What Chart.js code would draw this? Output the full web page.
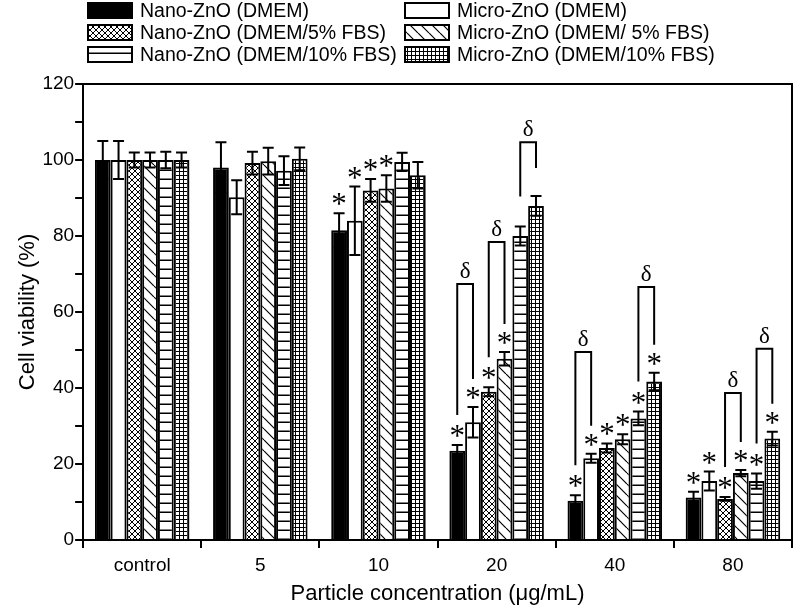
<!DOCTYPE html>
<html>
<head>
<meta charset="utf-8">
<script src="https://cdn.jsdelivr.net/npm/chart.js@4.4.0/dist/chart.umd.min.js"></script>
<style>
	html, body { margin: 0; padding: 0; background: #fff; }
</style>
</head>
<body>
<canvas id="graphique-viabilite" width="796" height="605"></canvas>
<script>
const concentrations = ["control", "5", "10", "20", "40", "80"];
const yTicks = [0, 20, 40, 60, 80, 100, 120];

const nanoDmem = [100, 98, 81.5, 23.5, 10.3, 11.2];
const nanoDmemErr = [5, 6.7, 4.5, 1.5, 1.5, 1.5];
const microDmem = [100, 90.2, 84, 31, 21.5, 15.5];
const microDmemErr = [5, 4.5, 9, 4, 1.2, 2.5];
const nano5 = [100, 99.2, 92, 39, 24.2, 10.8];
const nano5Err = [2, 3, 3, 1.2, 1.2, 0.5];
const micro5 = [100, 99.7, 92.5, 47.7, 26.5, 17.6];
const micro5Err = [2, 3.5, 3.5, 1.8, 1.3, 0.8];
const nano10 = [100, 97.2, 99.5, 80, 32, 15.5];
const nano10Err = [2.2, 3.8, 2.4, 2.5, 1.8, 2];
const micro10 = [100, 100.3, 96, 87.9, 41.7, 26.7];
const micro10Err = [2, 3, 3.5, 2.6, 2.3, 1.8];

// significance stars (1 = star above the bar)
const nanoDmemStar = [0, 0, 1, 1, 1, 1];
const microDmemStar = [0, 0, 1, 1, 1, 1];
const nano5Star = [0, 0, 1, 1, 1, 1];
const micro5Star = [0, 0, 1, 1, 1, 1];
const nano10Star = [0, 0, 0, 0, 1, 1];
const micro10Star = [0, 0, 0, 0, 1, 1];

// delta brackets: [group, first series, second series, top value]
const crochets = [
	[3, 0, 1, 67.4],
	[3, 2, 3, 78.4],
	[3, 4, 5, 104.7],
	[4, 0, 1, 49.5],
	[4, 4, 5, 66.6],
	[5, 2, 3, 38.7],
	[5, 4, 5, 50.3],
];

function motif(dessin, taille) {
	const c = document.createElement("canvas");
	c.width = taille;
	c.height = taille;
	const ctx = c.getContext("2d");
	ctx.fillStyle = "#fff";
	ctx.fillRect(0, 0, taille, taille);
	ctx.strokeStyle = "#000";
	ctx.fillStyle = "#000";
	ctx.lineWidth = 1;
	dessin(ctx, taille);
	return ctx.createPattern(c, "repeat");
}

const motifCroise = motif(function (ctx, t) {
	ctx.beginPath();
	for (let k = -t; k <= t; k += t) {
		ctx.moveTo(k, 0); ctx.lineTo(k + t, t);
		ctx.moveTo(k, t); ctx.lineTo(k + t, 0);
	}
	ctx.stroke();
}, 6);
const motifDiag = motif(function (ctx, t) {
	ctx.lineWidth = 1.2;
	ctx.beginPath();
	for (let k = -t; k <= t; k += t) {
		ctx.moveTo(k, 0); ctx.lineTo(k + t, t);
	}
	ctx.stroke();
}, 11);
const motifHoriz = motif(function (ctx, t) {
	ctx.fillRect(0, t - 1.5, t, 1.5);
}, 9);
const motifGrille = motif(function (ctx, t) {
	ctx.fillRect(t - 1, 0, 1, t);
	ctx.fillRect(0, t - 1, t, 1);
}, 4);

function serie(label, valeurs, erreurs, etoiles, fond) {
	return {
		label: label,
		data: valeurs,
		erreurs: erreurs,
		etoiles: etoiles,
		backgroundColor: fond,
		borderColor: "#000",
		borderWidth: 2,
		categoryPercentage: 0.8,
		barPercentage: 1.0,
	};
}

const datasets = [
	serie("Nano-ZnO (DMEM)", nanoDmem, nanoDmemErr, nanoDmemStar, "#000"),
	serie("Micro-ZnO (DMEM)", microDmem, microDmemErr, microDmemStar, "#fff"),
	serie("Nano-ZnO (DMEM/5% FBS)", nano5, nano5Err, nano5Star, motifCroise),
	serie("Micro-ZnO (DMEM/ 5% FBS)", micro5, micro5Err, micro5Star, motifDiag),
	serie("Nano-ZnO (DMEM/10% FBS)", nano10, nano10Err, nano10Star, motifHoriz),
	serie("Micro-ZnO (DMEM/10% FBS)", micro10, micro10Err, micro10Star, motifGrille),
];

const plugErreurs = {
	id: "erreurs",
	afterDatasetsDraw(chart) {
		const ctx = chart.ctx;
		const y = chart.scales.y;
		ctx.save();
		ctx.strokeStyle = "#000";
		ctx.lineWidth = 2;
		chart.data.datasets.forEach((ds, i) => {
			chart.getDatasetMeta(i).data.forEach((barre, j) => {
				const haut = y.getPixelForValue(ds.data[j] + ds.erreurs[j]);
				const bas = y.getPixelForValue(ds.data[j] - ds.erreurs[j]);
				ctx.beginPath();
				ctx.moveTo(barre.x, haut); ctx.lineTo(barre.x, bas);
				ctx.moveTo(barre.x - 5.5, haut); ctx.lineTo(barre.x + 5.5, haut);
				ctx.moveTo(barre.x - 5.5, bas); ctx.lineTo(barre.x + 5.5, bas);
				ctx.stroke();
			});
		});

		// stars
		ctx.fillStyle = "#000";
		ctx.font = "31px 'Liberation Serif'";
		ctx.textAlign = "center";
		ctx.textBaseline = "alphabetic";
		chart.data.datasets.forEach((ds, i) => {
			chart.getDatasetMeta(i).data.forEach((barre, j) => {
				if (!ds.etoiles[j]) return;
				const haut = y.getPixelForValue(ds.data[j] + ds.erreurs[j]);
				ctx.fillText("*", barre.x, haut + 1);
			});
		});

		// delta brackets
		ctx.font = "23px 'Liberation Serif'";
		for (const [g, a, b, sommet] of crochets) {
			const barreA = chart.getDatasetMeta(a).data[g];
			const barreB = chart.getDatasetMeta(b).data[g];
			const dsA = chart.data.datasets[a], dsB = chart.data.datasets[b];
			const yTop = y.getPixelForValue(sommet);
			const basA = y.getPixelForValue(dsA.data[g] + dsA.erreurs[g]) - 30;
			const basB = y.getPixelForValue(dsB.data[g] + dsB.erreurs[g]) - 28;
			ctx.beginPath();
			ctx.moveTo(barreA.x, basA);
			ctx.lineTo(barreA.x, yTop);
			ctx.lineTo(barreB.x, yTop);
			ctx.lineTo(barreB.x, basB);
			ctx.stroke();
			ctx.fillText("δ", (barreA.x + barreB.x) / 2, yTop - 6);
		}
		ctx.restore();
	},
	afterDraw(chart) {
		const ctx = chart.ctx;
		const zone = chart.chartArea;
		ctx.save();
		ctx.strokeStyle = "#000";
		ctx.lineWidth = 2;
		ctx.beginPath();
		ctx.moveTo(zone.left, zone.top);
		ctx.lineTo(zone.right, zone.top);
		ctx.lineTo(zone.right, zone.bottom);
		ctx.stroke();

		// legend, two columns of three rows
		const colonnes = [88, 405];
		const lignes = [3, 25, 47];
		ctx.font = "19.5px 'Liberation Sans'";
		ctx.textBaseline = "middle";
		ctx.textAlign = "left";
		chart.data.datasets.forEach((ds, i) => {
			const x = colonnes[i % 2];
			const yl = lignes[Math.floor(i / 2)];
			ctx.fillStyle = ds.backgroundColor;
			ctx.fillRect(x, yl, 44, 15);
			ctx.strokeRect(x, yl, 44, 15);
			ctx.fillStyle = "#000";
			ctx.fillText(ds.label, x + 52, yl + 9);
		});
		ctx.restore();
	}
};

const config = {
	type: "bar",
	data: {
		labels: concentrations,
		datasets: datasets,
	},
	options: {
		responsive: false,
		animation: false,
		devicePixelRatio: 1,
		layout: { padding: { top: 84, right: 4, left: 15, bottom: 0 } },
		plugins: {
			legend: { display: false },
			tooltip: { enabled: false },
		},
		scales: {
			x: {
				grid: { display: true, drawOnChartArea: false, color: "#000", lineWidth: 2, tickLength: 8, offset: true },
				border: { color: "#000", width: 2 },
				ticks: { color: "#000", font: { family: "'Liberation Sans'", size: 19, lineHeight: 1.0 }, padding: 8 },
				title: {
					display: true,
					text: "Particle concentration (μg/mL)",
					color: "#000",
					font: { family: "'Liberation Sans'", size: 22, lineHeight: 1.0 },
					padding: { top: 0, bottom: 0 },
				},
			},
			y: {
				min: 0,
				max: 120,
				grid: { display: true, drawOnChartArea: false, color: "#000", lineWidth: 2, tickLength: 8 },
				border: { color: "#000", width: 2 },
				ticks: {
					stepSize: 10,
					color: "#000",
					font: { family: "'Liberation Sans'", size: 19 },
					padding: 1,
					callback: v => yTicks.includes(v) ? v : "",
				},
				title: {
					display: true,
					text: "Cell viability (%)",
					color: "#000",
					font: { family: "'Liberation Sans'", size: 22 },
					padding: { top: 0, bottom: 0 },
				},
			},
		},
	},
	plugins: [plugErreurs],
};

const graphique = new Chart(document.querySelector("#graphique-viabilite"), config);
</script>
</body>
</html>
